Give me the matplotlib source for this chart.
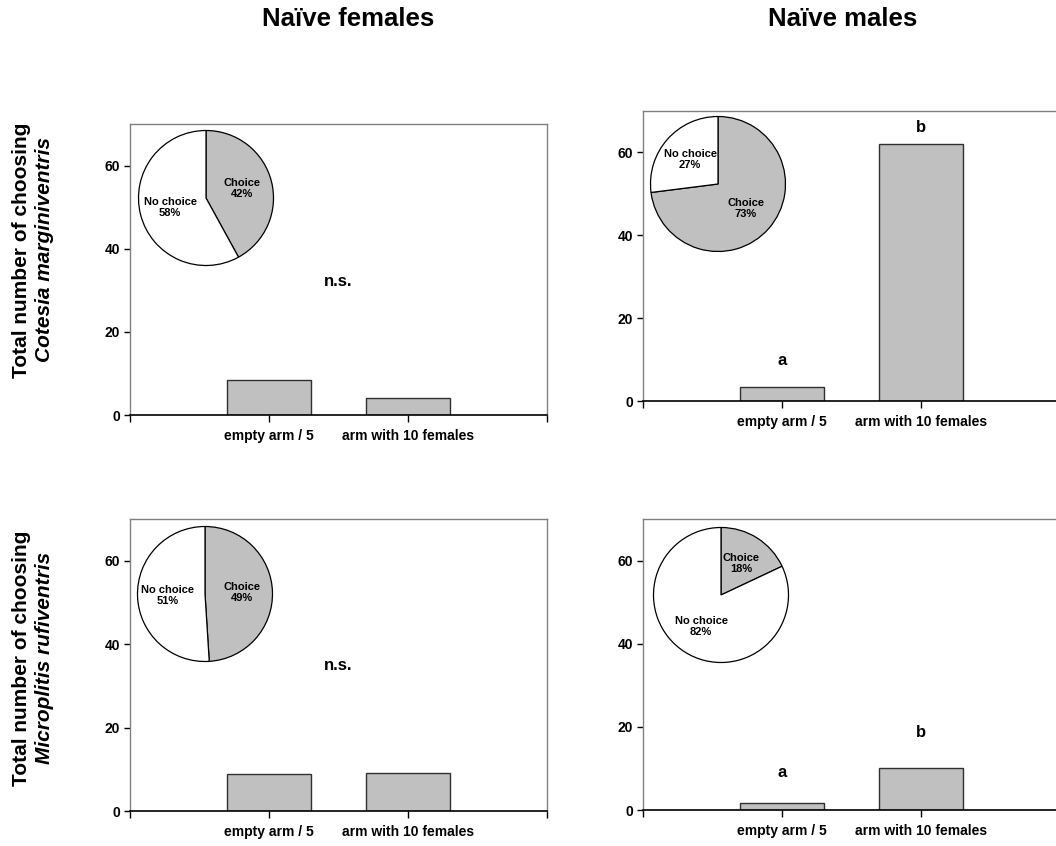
import numpy as np
import matplotlib
matplotlib.use("Agg")
import matplotlib.pyplot as plt

plt.rcParams['font.family'] = ['Liberation Sans', 'DejaVu Sans']
plt.rcParams['font.weight'] = 'bold'

# arm counts per panel (rows: species, cols: naive females / naive males)
arms = ["empty arm / 5", "arm with 10 females"]
cm_females = [8.3, 4.0]
cm_males = [3.4, 62.0]
mr_females = [8.8, 9.0]
mr_males = [1.8, 10.0]

# percentage of wasps that made a choice
choice_pct = [42, 73, 49, 18]

# significance labels and their heights
sig_letters = [None, ["a", "b"], None, ["a", "b"]]
letter_y = [None, [8.0, 64.3], None, [7.2, 16.8]]
ns_y = [32, None, 35, None]

col_titles = ["Naïve females", "Naïve males"]
species = ["Cotesia marginiventris", "Microplitis rufiventris"]

W, H = 1056, 846
fig = plt.figure(figsize=(W / 100, H / 100), dpi=100)


def px_axes(left, top, right, bottom):
    return fig.add_axes([left / W, 1 - bottom / H, (right - left) / W, (bottom - top) / H])


boxes = [(130, 124, 547, 415), (643, 111, 1060, 401),
         (130, 519, 547, 811), (643, 519, 1060, 810)]
pie_centres = [(206, 198), (718, 184), (205, 594), (721, 595)]
R = 67.5
data = [cm_females, cm_males, mr_females, mr_males]
grey = '#c0c0c0'
frame_grey = '#808080'

for i, (box, vals) in enumerate(zip(boxes, data)):
    ax = px_axes(*box)
    x = np.array([1, 2])
    ax.bar(x, vals, width=0.6, color=grey, edgecolor='#303030', linewidth=1.0, zorder=2)
    ax.set_xlim(0, 3)
    ax.set_ylim(0, 70)
    ax.set_yticks([0, 20, 40, 60])
    ax.set_xticks([0, 1, 2, 3])
    ax.set_xticklabels([""] + arms + [""])
    ax.tick_params(axis='y', direction='out', length=4, width=1, labelsize=10, pad=3)
    ax.tick_params(axis='x', direction='out', length=5, width=1, labelsize=10, pad=5)
    for lab in ax.get_xticklabels() + ax.get_yticklabels():
        lab.set_fontweight('bold')
    for s in ['top', 'right', 'left']:
        ax.spines[s].set_color(frame_grey)
        ax.spines[s].set_linewidth(1.0)
    ax.spines['bottom'].set_color('black')
    ax.spines['bottom'].set_linewidth(1.2)
    ax.spines['right'].set_clip_on(False)

    if ns_y[i] is not None:
        ax.text(1.5, ns_y[i], "n.s.", ha='center', va='center', fontsize=12, fontweight='bold')
    if sig_letters[i] is not None:
        for xi, let, ly in zip(x, sig_letters[i], letter_y[i]):
            ax.text(xi, ly, let, ha='center', va='bottom', fontsize=12, fontweight='bold')

    # inset pie: share of wasps that chose an arm
    cx, cy = pie_centres[i]
    r = R * 1.02
    pax = px_axes(cx - r, cy - r, cx + r, cy + r)
    c = choice_pct[i]
    wedges, texts = pax.pie([c, 100 - c],
                            labels=[f"Choice\n{c}%", f"No choice\n{100 - c}%"],
                            colors=[grey, 'white'], startangle=90, counterclock=False,
                            labeldistance=0.55,
                            wedgeprops=dict(edgecolor='black', linewidth=0.9))
    for t in texts:
        t.set_ha('center')
        t.set_va('center')
        t.set_fontsize(8)
        t.set_fontweight('bold')
        t.set_linespacing(1.15)
    pax.set_xlim(-1.02, 1.02)
    pax.set_ylim(-1.02, 1.02)
    pax.set_aspect('equal')

# column headings
fig.text(348 / W, 1 - 19.5 / H, col_titles[0], ha='center', va='center', fontsize=18.5, fontweight='bold')
fig.text(843 / W, 1 - 19.5 / H, col_titles[1], ha='center', va='center', fontsize=18.5, fontweight='bold')

# row y-labels
for yc, sp in zip([250, 658], species):
    fig.text(22 / W, 1 - yc / H, "Total number of choosing", rotation=90,
             ha='center', va='center', fontsize=15, fontweight='bold')
    fig.text(45 / W, 1 - yc / H, sp, rotation=90, ha='center', va='center',
             fontsize=15, fontweight='bold', style='italic')

fig.savefig("out.png", dpi=100)
